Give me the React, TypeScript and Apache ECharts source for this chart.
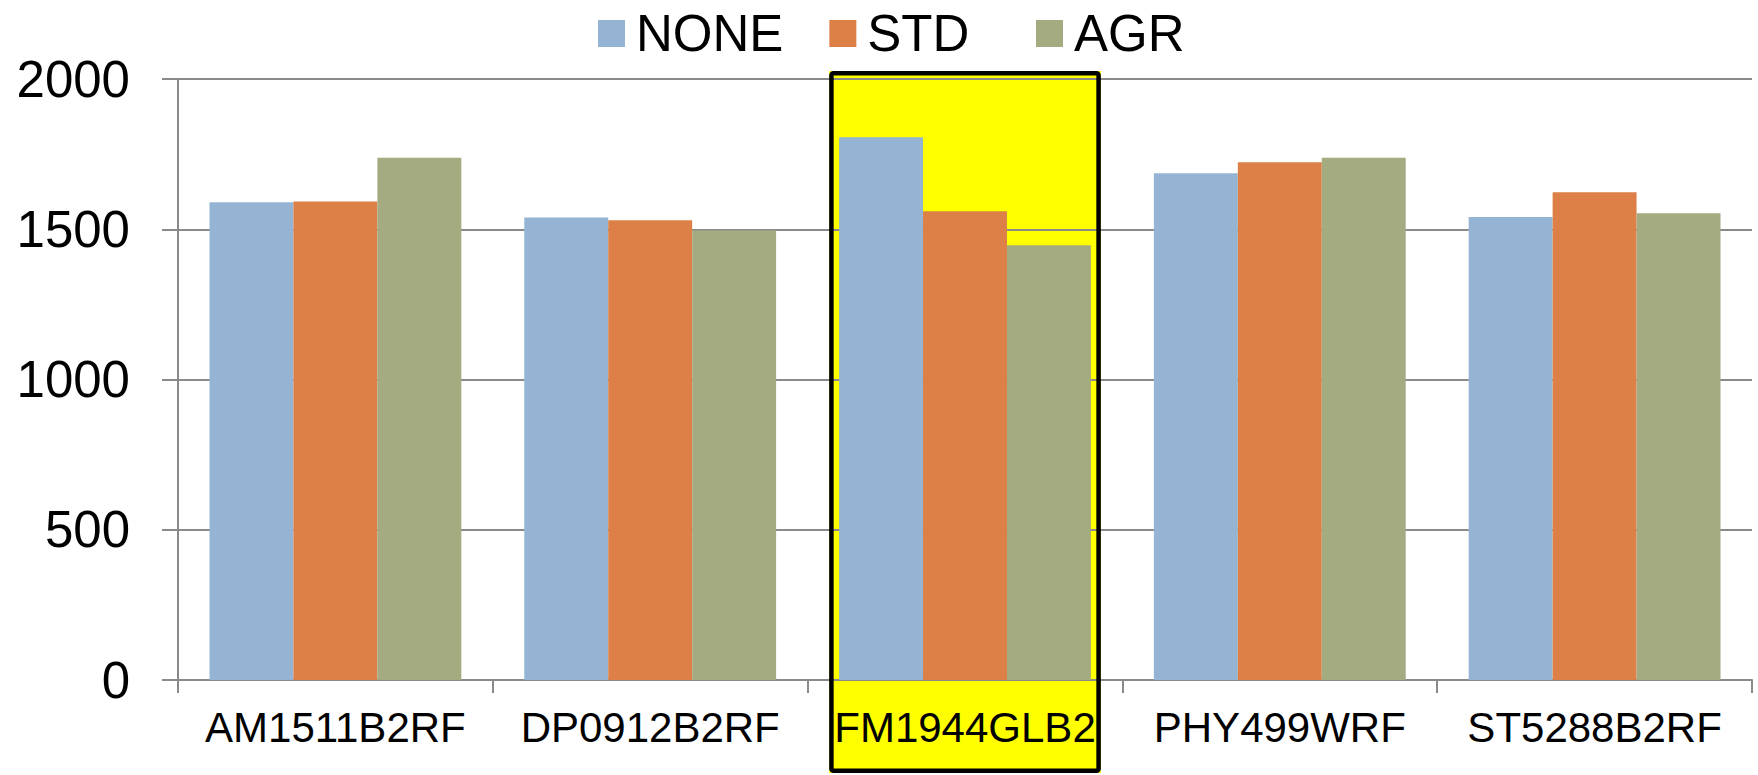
import React, { useEffect, useRef } from "react";
import * as echarts from "echarts";

const categories = ["AM1511B2RF", "DP0912B2RF", "FM1944GLB2", "PHY499WRF", "ST5288B2RF"];
const seriesNames = ["NONE", "STD", "AGR"];
const noneValues = [1590, 1539, 1806, 1686, 1541];
const stdValues = [1592, 1530, 1560, 1723, 1623];
const agrValues = [1738, 1496, 1447, 1738, 1553];
const highlighted = "FM1944GLB2";

const colors = ["#95B4D4", "#DD8047", "#A5AB81"];
const FONT = "'Liberation Sans', Arial, sans-serif";

export default function App() {
  const ref = useRef<HTMLDivElement>(null);
  useEffect(() => {
    if (!ref.current) return;
    const chart = echarts.init(ref.current, null, { renderer: "svg" });
    const values = [noneValues, stdValues, agrValues];
    const legendBase = {
      top: 3,
      itemWidth: 27,
      itemHeight: 27,
      itemGap: 46,
      icon: "rect",
      textStyle: { fontFamily: FONT, fontSize: 51, color: "#000", padding: [0, 0, 0, 6] },
    };
    chart.setOption({
      animation: false,
      backgroundColor: "#ffffff",
      color: colors,
      legend: [
        { ...legendBase, left: 593, data: seriesNames.slice(0, 2) },
        { ...legendBase, left: 1031, data: seriesNames.slice(2) },
      ],
      grid: { left: 178, right: 6, top: 79, bottom: 95, containLabel: false },
      xAxis: {
        type: "category",
        data: categories,
        axisLine: { lineStyle: { color: "#8A8A8A", width: 2 } },
        axisTick: { show: true, length: 13, lineStyle: { color: "#8A8A8A", width: 2 } },
        axisLabel: { interval: 0, fontFamily: FONT, fontSize: 42, color: "#000", margin: 26 },
        splitLine: { show: false },
      },
      yAxis: {
        type: "value",
        min: 0,
        max: 2000,
        interval: 500,
        axisLine: { show: true, lineStyle: { color: "#8A8A8A", width: 2 } },
        axisTick: { show: true, length: 16, lineStyle: { color: "#8A8A8A", width: 2 } },
        axisLabel: {
          fontFamily: FONT,
          fontSize: 51,
          color: "#000",
          margin: 48,
          formatter: (v: number) => String(v),
        },
        splitLine: { show: true, lineStyle: { color: "#8A8A8A", width: 2 } },
      },
      series: seriesNames.map((name, i) => ({
        name,
        type: "bar",
        data: values[i],
        barGap: "0%",
        barCategoryGap: "20%",
        itemStyle: { color: colors[i] },
      })),
    });

    const cx = chart.convertToPixel({ xAxisIndex: 0 }, highlighted) as number;
    const c0 = chart.convertToPixel({ xAxisIndex: 0 }, categories[0]) as number;
    const c1 = chart.convertToPixel({ xAxisIndex: 0 }, categories[1]) as number;
    const band = Math.abs(c1 - c0);
    const boxW = band * 0.863;
    const topY = (chart.convertToPixel({ yAxisIndex: 0 }, 2000) as number) - 8;
    const H = chart.getHeight();
    const lw = 4.5;
    chart.setOption({
      graphic: [
        {
          type: "rect",
          z: -10,
          silent: true,
          shape: { x: cx - boxW / 2, y: topY, width: boxW, height: H - topY - 2 },
          style: { fill: "#FFFF00" },
        },
        {
          type: "rect",
          z: 100,
          silent: true,
          shape: {
            x: cx - boxW / 2 + lw / 2,
            y: topY + lw / 2,
            width: boxW - lw,
            height: H - topY - 2 - lw,
            r: 2,
          },
          style: { fill: "none", stroke: "#000", lineWidth: lw },
        },
      ],
    });

    return () => chart.dispose();
  }, []);
  return (
    <div
      ref={ref}
      style={{ position: "absolute", left: 0, top: 0, width: 1758, height: 775 }}
    />
  );
}
